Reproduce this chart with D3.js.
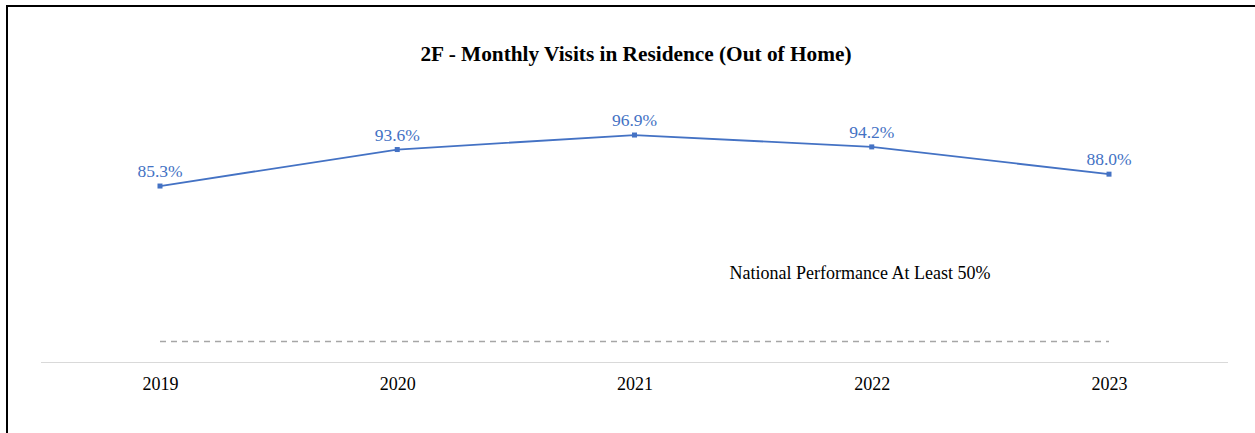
<!DOCTYPE html>
<html><head><meta charset="utf-8">
<script src="https://cdn.jsdelivr.net/npm/d3@7"></script>
<style>html,body{margin:0;padding:0;background:#fff;}svg{display:block;}</style>
</head><body>
<svg id="chart" width="1255" height="433"></svg>
<script>
const years = ["2019","2020","2021","2022","2023"];
const values = [85.3, 93.6, 96.9, 94.2, 88.0];
const benchmark = 50;
const titleText = "2F - Monthly Visits in Residence (Out of Home)";
const benchmarkLabel = "National Performance At Least 50%";

const svg = d3.select("#chart");
const W = 1255, H = 433;
const font = "'Liberation Serif','Times New Roman',serif";
const blue = "#4472C4";

// frame: top and left border
svg.append("line").attr("x1",6).attr("x2",W).attr("y1",6).attr("y2",6).attr("stroke","#000").attr("stroke-width",2);
svg.append("line").attr("x1",7).attr("x2",7).attr("y1",5).attr("y2",H).attr("stroke","#000").attr("stroke-width",2);

const x = d3.scalePoint().domain(years).range([160, 1109]);
const y = d3.scaleLinear().domain([45, 100]).range([363.2, 121.4]);

svg.append("text").attr("x",636).attr("y",61).attr("text-anchor","middle")
  .attr("font-family",font).attr("font-weight","bold").attr("font-size",21.3).attr("fill","#000").text(titleText);

// axis baseline
const xAxis = d3.axisBottom(x).tickSize(0).tickPadding(15);
const gx = svg.append("g").attr("transform",`translate(0,362)`).call(xAxis);
gx.select(".domain").remove();
svg.append("line").attr("x1",41).attr("x2",1228).attr("y1",362.5).attr("y2",362.5).attr("stroke","#d9d9d9").attr("stroke-width",1);
gx.selectAll("text").attr("font-family",font).attr("font-size",18).attr("fill","#000");

// benchmark dashed line
svg.append("line").attr("x1",x(years[0])).attr("x2",x(years[years.length-1]))
  .attr("y1",Math.round(y(benchmark))+0.5).attr("y2",Math.round(y(benchmark))+0.5)
  .attr("stroke","#a6a6a6").attr("stroke-width",1.5).attr("stroke-dasharray","6,5");
svg.append("text").attr("x",860).attr("y",279).attr("text-anchor","middle")
  .attr("font-family",font).attr("font-size",18).attr("fill","#000").text(benchmarkLabel);

// line
const line = d3.line().x((d,i)=>x(years[i])).y(d=>y(d));
svg.append("path").datum(values).attr("d",line).attr("fill","none").attr("stroke",blue).attr("stroke-width",1.8);
svg.selectAll(".mk").data(values).enter().append("rect")
  .attr("x",(d,i)=>x(years[i])-2.5).attr("y",d=>y(d)-2.5).attr("width",5).attr("height",5).attr("fill",blue);
svg.selectAll(".lbl").data(values).enter().append("text")
  .attr("x",(d,i)=>x(years[i])).attr("y",d=>y(d)-9).attr("text-anchor","middle")
  .attr("font-family",font).attr("font-size",17.5).attr("fill",blue).text(d=>d.toFixed(1)+"%");
</script>
</body></html>
